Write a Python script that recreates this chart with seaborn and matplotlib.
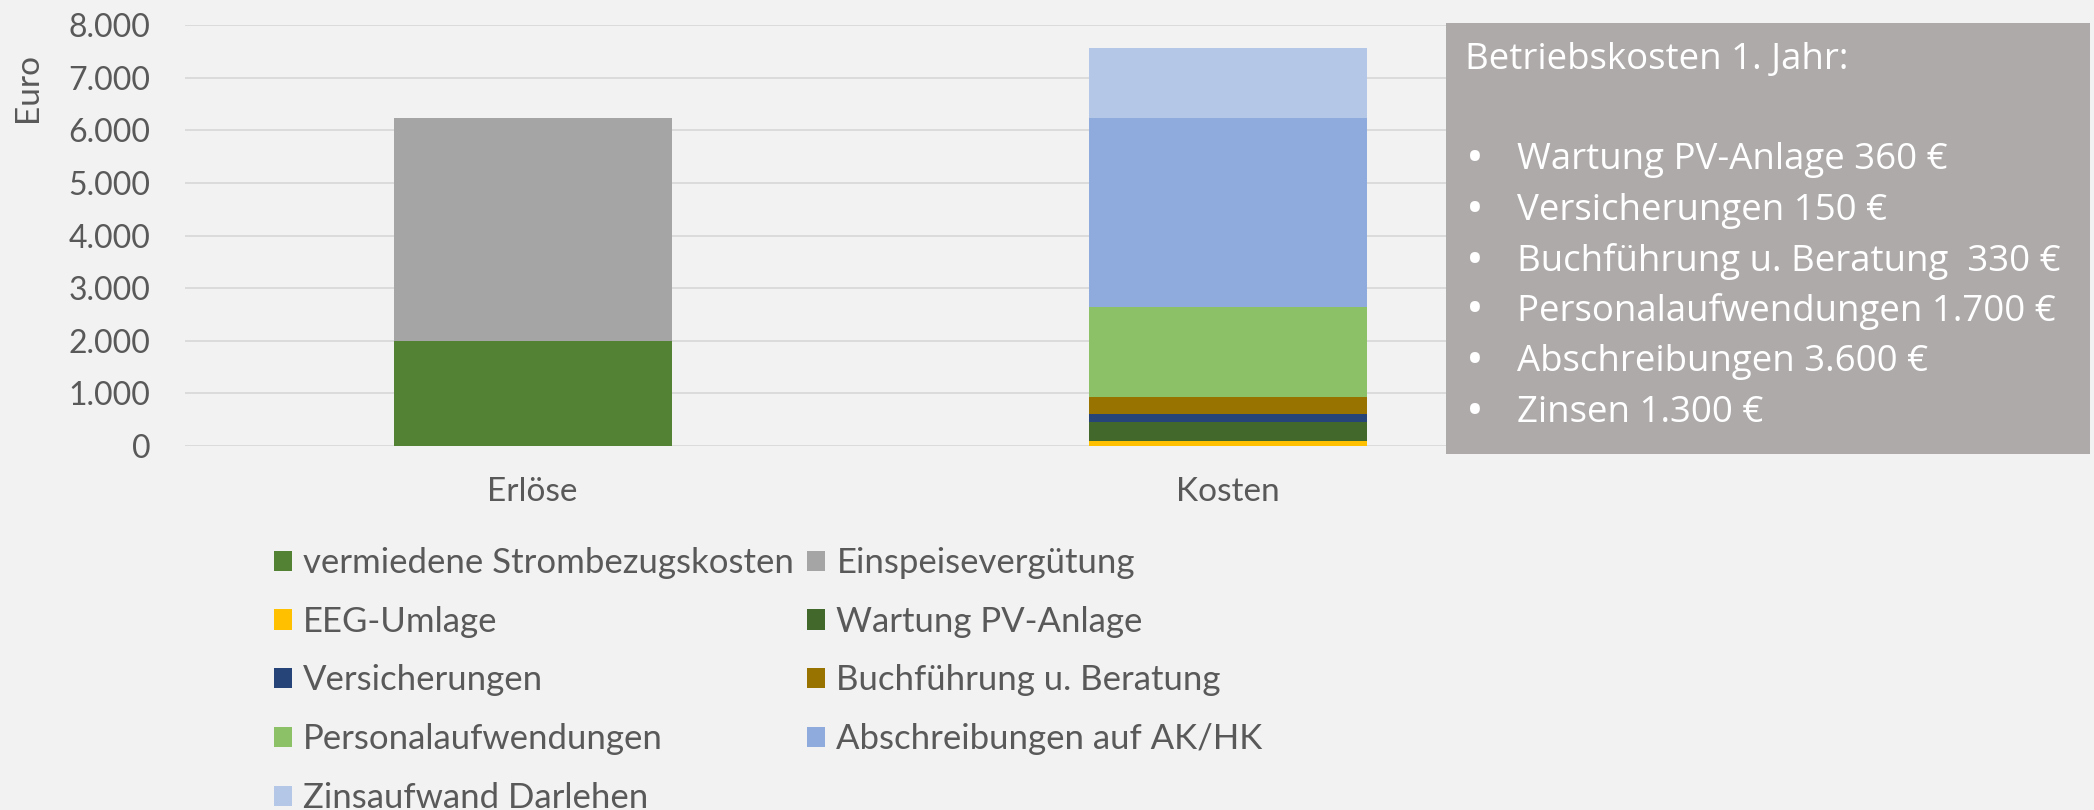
import matplotlib
matplotlib.use("Agg")
import matplotlib.pyplot as plt
from matplotlib.patches import Patch, Rectangle
import seaborn as sns
import pandas as pd

categories = ["Erlöse", "Kosten"]
components = ["vermiedene Strombezugskosten", "Einspeisevergütung", "EEG-Umlage",
              "Wartung PV-Anlage", "Versicherungen", "Buchführung u. Beratung",
              "Personalaufwendungen", "Abschreibungen auf AK/HK", "Zinsaufwand Darlehen"]
erloese_values = [2000, 4240, 0, 0, 0, 0, 0, 0, 0]
kosten_values = [0, 0, 95, 360, 150, 330, 1700, 3600, 1330]
colors = ["#548235", "#A5A5A5", "#FFC000", "#43682B", "#264478", "#997300",
          "#8DC168", "#8FAADC", "#B4C7E7"]
y_ticks = [0, 1000, 2000, 3000, 4000, 5000, 6000, 7000, 8000]
y_ticklabels = ["0", "1.000", "2.000", "3.000", "4.000", "5.000", "6.000", "7.000", "8.000"]
box_title = "Betriebskosten 1. Jahr:"
box_items = ["Wartung PV-Anlage 360 €", "Versicherungen 150 €",
             "Buchführung u. Beratung  330 €", "Personalaufwendungen 1.700 €",
             "Abschreibungen 3.600 €", "Zinsen 1.300 €"]

sns.set_theme(style="white")
plt.rcParams["font.family"] = ["Lato", "DejaVu Sans"]
TXT = "#595959"
BG = "#F2F2F2"

fig = plt.figure(figsize=(20.94, 8.10), dpi=100, facecolor=BG)
ax = fig.add_axes([185/2094, 1-446/810, 1390/2094, (446-25.3)/810])
ax.set_facecolor(BG)

# cumulative stacks, drawn from top to bottom
cum_e, cum_k = [], []
se = sk = 0
for e, k in zip(erloese_values, kosten_values):
    se += e; sk += k
    cum_e.append(se); cum_k.append(sk)

for i in range(len(components) - 1, -1, -1):
    df = pd.DataFrame({"cat": categories, "val": [cum_e[i], cum_k[i]]})
    sns.barplot(data=df, x="cat", y="val", order=categories, color=colors[i],
                saturation=1, width=0.4, ax=ax, linewidth=0, errorbar=None)

ax.set_xlim(-0.5, 1.5)
ax.set_ylim(0, 8000)
ax.set_yticks(y_ticks)
ax.set_yticklabels(y_ticklabels)
ax.yaxis.grid(True, color="#D9D9D9", linewidth=1.3)
ax.set_axisbelow(True)
for s in ax.spines.values():
    s.set_visible(False)
ax.set_xlabel("")
ax.set_ylabel("")
ax.tick_params(axis="both", length=0, colors=TXT, labelsize=23)
ax.tick_params(axis="x", labelsize=24, pad=22)
ax.tick_params(axis="y", pad=25)

fig.text(28/2094, 1-88/810, "Euro", rotation=90, ha="center", va="center",
         color=TXT, fontsize=24)

# legend in row-major order (matplotlib fills column-wise)
handles = [Patch(facecolor=c, edgecolor="none", label=l) for c, l in zip(colors, components)]
order = [0, 2, 4, 6, 8, 1, 3, 5, 7]
leg = fig.legend([handles[i] for i in order], [components[i] for i in order],
                 ncol=2, loc="upper left", bbox_to_anchor=(274/2094, 1-547/810),
                 frameon=False, fontsize=25, handlelength=0.52, handleheight=0.52,
                 handletextpad=0.32, columnspacing=0.38, labelspacing=0.77,
                 labelcolor=TXT, borderaxespad=0, borderpad=0)

# text box
fig.patches.append(Rectangle((1446/2094, 1-454/810), (2090-1446)/2094, (454-23)/810,
                             transform=fig.transFigure, facecolor="#AEAAAA",
                             edgecolor="none", zorder=5))
BOXFONT = ["Open Sans", "DejaVu Sans"]
fig.text(1465/2094, 1-60/810, box_title, color="white", fontsize=26.4,
         va="center", ha="left", zorder=6, family=BOXFONT)
ys = [160, 211, 262, 311, 362, 413]
for y, t in zip(ys, box_items):
    fig.text(1466/2094, 1-y/810, "•", color="white", fontsize=34, va="center",
             ha="left", zorder=6, family=BOXFONT)
    fig.text(1517/2094, 1-y/810, t, color="white", fontsize=26.4, va="center",
             ha="left", zorder=6, family=BOXFONT)

fig.savefig("out.png", dpi=100, facecolor=BG)
